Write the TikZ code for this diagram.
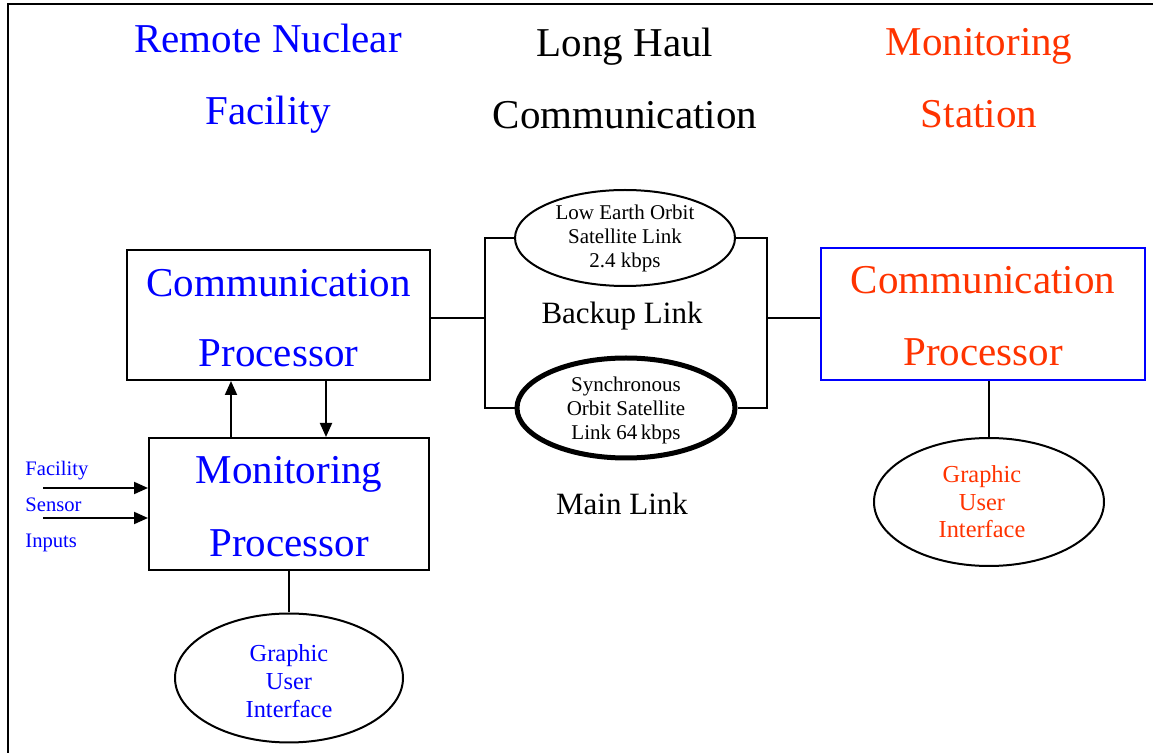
\documentclass[tikz,border=0pt]{standalone}
\usepackage{fontspec}
\setmainfont{Liberation Serif}
\usetikzlibrary{shapes.geometric,arrows.meta}
\definecolor{bl}{RGB}{0,0,255}
\definecolor{rd}{RGB}{255,51,0}
\begin{document}
\begin{tikzpicture}[x=0.5pt,y=-0.5pt,
  txt/.style={inner sep=0pt,align=center},
  big/.style={txt,font=\fontsize{20.5}{36}\selectfont},
  box/.style={draw,line width=1pt,rectangle,align=center,inner sep=0pt},
  ell/.style={draw,line width=1pt,ellipse,inner sep=0pt},
  wire/.style={line width=1pt},
  arr/.style={line width=1pt,-{Triangle[width=6pt,length=7pt]}}]
\useasboundingbox (0,0) rectangle (1153,753);
% frame
\coordinate (f1) at (8,753);
\coordinate (f2) at (8,4);
\coordinate (f3) at (1153,4);
\draw[line width=1.1pt] (f1) -- (f2) -- (f3);
% titles
\node[big,text=bl] (t1) at (268,79) {Remote Nuclear\\Facility};
\node[big] (t2) at (625,78) {Long Haul\\Communication};
\node[big,text=rd] (t3) at (979,78) {Monitoring\\Station};
% boxes
\node[box,minimum width=151.5pt,minimum height=65pt] (lc) at (278.5,315) {};
\node[txt,text=bl,font=\fontsize{20.5}{35}\selectfont] (lct) at (278.5,318) {Communication\\Processor};
\node[box,draw=bl,minimum width=162pt,minimum height=66pt] (rc) at (983,314) {};
\node[txt,text=rd,font=\fontsize{20.5}{36}\selectfont] (rct) at (983,316) {Communication\\Processor};
\node[box,minimum width=140pt,minimum height=66pt] (mp) at (289,504) {};
\node[txt,text=bl,font=\fontsize{20.5}{36.5}\selectfont] (mpt) at (289,507) {Monitoring\\Processor};
% link ellipses
\node[ell,minimum width=110pt,minimum height=48pt] (leo) at (625,238) {};
\node[txt,font=\fontsize{10.5}{12}\selectfont] (leot) at (leo.center) {Low Earth Orbit\\Satellite Link\\2.4 kbps};
\node[ell,line width=2.5pt,minimum width=109pt,minimum height=50pt] (geo) at (626,408) {};
\node[txt,font=\fontsize{10.5}{12}\selectfont] (geot) at (626,410) {Synchronous\\Orbit Satellite\\Link 64\,kbps};
\node[txt,font=\fontsize{15.5}{18}\selectfont] (bk) at (622,316) {Backup Link};
\node[txt,font=\fontsize{15.5}{18}\selectfont] (ml) at (622,504) {Main Link};
% GUI ellipses
\node[ell,minimum width=114pt,minimum height=64.5pt] (gl) at (289,678) {};
\node[txt,text=bl,font=\fontsize{12.2}{14}\selectfont] (glt) at (289,681) {Graphic\\User\\Interface};
\node[ell,minimum width=115pt,minimum height=64pt] (gr) at (989,502) {};
\node[txt,text=rd,font=\fontsize{12.2}{13.8}\selectfont] (grt) at (982,502) {Graphic\\User\\Interface};
% inputs label
\node[txt,align=left,anchor=west,text=bl,font=\fontsize{10.3}{18}\selectfont] (inp) at (25,507) {Facility\\Sensor\\Inputs};
% connectors
\coordinate (brl) at (485,318);
\coordinate (brr) at (767,318);
\draw[wire] (lc.east |- brl) -- (brl);
\draw[wire] (leo.west) -| (brl) |- (geo.west);
\draw[wire] (leo.east) -| (brr) |- (geo.east);
\draw[wire] (brr) -- (rc.west |- brr);
\coordinate (ax1) at (231,0);
\coordinate (ax2) at (326,0);
\draw[arr] (mp.north -| ax1) -- (lc.south -| ax1);
\draw[arr] (lc.south -| ax2) -- (mp.north -| ax2);
\coordinate (in1) at (43,488);
\coordinate (in2) at (43,518);
\draw[arr] (in1) -- (in1 -| mp.west);
\draw[arr] (in2) -- (in2 -| mp.west);
\draw[wire] (mp.south) -- (gl.north);
\draw[wire] (gr.north) -- (gr.north |- rc.south);
\end{tikzpicture}
\end{document}
